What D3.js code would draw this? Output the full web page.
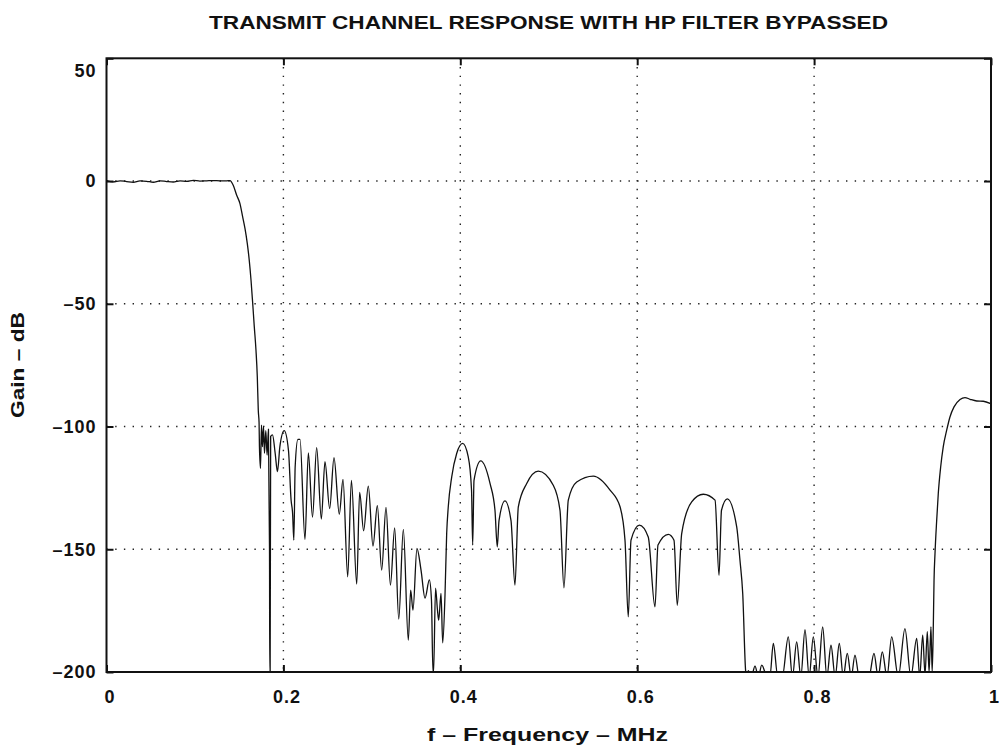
<!DOCTYPE html>
<html>
<head>
<meta charset="utf-8">
<script src="https://cdn.jsdelivr.net/npm/d3@7"></script>
<style>
  html, body { margin: 0; padding: 0; background: #fff; }
  svg { display: block; }
  text { font-family: "Liberation Sans", Arial, Helvetica, sans-serif; font-weight: bold; fill: #111; }
</style>
</head>
<body>
<script>
// ---- data (frequency in MHz, gain in dB) ----
const freq = [
  0.0000, 0.0077, 0.0153, 0.0228, 0.0303, 0.0379, 0.0454, 0.0529, 0.0605, 0.0680,
  0.0755, 0.0831, 0.0907, 0.0981, 0.1057, 0.1133, 0.1207, 0.1283, 0.1359, 0.1396,
  0.1434, 0.1472, 0.1509, 0.1540, 0.1566, 0.1592, 0.1614, 0.1634, 0.1653, 0.1671,
  0.1690, 0.1705, 0.1716, 0.1725, 0.1729, 0.1741, 0.1752, 0.1763, 0.1775, 0.1786,
  0.1801, 0.1816, 0.1831, 0.1843, 0.1846, 0.1850, 0.1856, 0.1877, 0.1907, 0.1933,
  0.1960, 0.2009, 0.2057, 0.2087, 0.2104, 0.2118, 0.2133, 0.2164, 0.2188, 0.2244,
  0.2282, 0.2329, 0.2376, 0.2429, 0.2470, 0.2523, 0.2572, 0.2632, 0.2674, 0.2727,
  0.2769, 0.2829, 0.2862, 0.2907, 0.2960, 0.3013, 0.3062, 0.3111, 0.3160, 0.3210,
  0.3258, 0.3304, 0.3356, 0.3412, 0.3439, 0.3465, 0.3510, 0.3556, 0.3601, 0.3650,
  0.3674, 0.3691, 0.3698, 0.3720, 0.3742, 0.3756, 0.3782, 0.3801, 0.3827, 0.3846,
  0.3864, 0.3903, 0.3959, 0.4027, 0.4090, 0.4127, 0.4140, 0.4155, 0.4231, 0.4336,
  0.4392, 0.4418, 0.4438, 0.4505, 0.4573, 0.4618, 0.4656, 0.4751, 0.4882, 0.5051,
  0.5127, 0.5172, 0.5221, 0.5316, 0.5504, 0.5693, 0.5806, 0.5862, 0.5899, 0.5930,
  0.6024, 0.6125, 0.6201, 0.6235, 0.6352, 0.6416, 0.6453, 0.6503, 0.6616, 0.6747,
  0.6880, 0.6925, 0.6953, 0.7019, 0.7125, 0.7162, 0.7193, 0.7227, 0.7240, 0.7256,
  0.7290, 0.7332, 0.7370, 0.7408, 0.7470, 0.7500, 0.7539, 0.7590, 0.7640, 0.7708,
  0.7755, 0.7803, 0.7850, 0.7897, 0.7944, 0.7991, 0.8044, 0.8097, 0.8144, 0.8191,
  0.8238, 0.8285, 0.8330, 0.8375, 0.8420, 0.8462, 0.8510, 0.8620, 0.8677, 0.8724,
  0.8771, 0.8824, 0.8877, 0.8952, 0.9027, 0.9094, 0.9160, 0.9194, 0.9228, 0.9254,
  0.9280, 0.9300, 0.9321, 0.9335, 0.9348, 0.9356, 0.9367, 0.9386, 0.9404, 0.9431,
  0.9460, 0.9499, 0.9536, 0.9582, 0.9650, 0.9706, 0.9763, 0.9839, 0.9913, 0.9989,
  1.0000
];
const gainDb = [
   0.2, -0.3,  0.1, -0.2, -0.5,  0.1, -0.1, -0.5,  0.1, -0.2,
  -0.4,  0.1, -0.1,  0.3,  0.0,  0.1,  0.2,  0.1,  0.1,  0.2,
  -1.8, -5.8, -9.2, -14.7, -19.4, -25.5, -32.3, -40.4, -49.9, -59.4,
  -68.9, -79.8, -93.4, -98.5, -108.0, -117.0, -99.4, -108.2, -99.8, -110.9,
  -101.7, -111.6, -101.1, -150.0, -200.0, -200.0, -104.0, -103.4, -110.9, -118.4,
  -108.2, -101.7, -109.6, -130.0, -135.4, -146.3, -116.4, -105.2, -105.2, -146.0,
  -110.7, -136.9, -108.6, -137.7, -114.3, -133.4, -112.7, -135.7, -121.5, -161.2,
  -121.9, -164.2, -126.8, -142.5, -124.3, -148.7, -132.2, -158.5, -132.9, -164.6,
  -141.3, -178.5, -141.9, -187.0, -166.7, -174.8, -149.7, -158.5, -169.9, -162.5,
  -170.7, -200.0, -200.0, -165.8, -174.8, -178.9, -168.0, -188.1, -168.7, -143.6,
  -132.7, -120.5, -111.0, -106.9, -112.4, -125.9, -148.3, -121.9, -114.0, -123.2,
  -134.1, -149.0, -138.2, -130.3, -138.2, -164.6, -132.7, -123.2, -118.2, -123.9,
  -134.1, -165.7, -130.0, -122.6, -120.2, -125.9, -132.7, -146.3, -177.5, -146.3,
  -140.2, -145.0, -173.5, -148.3, -143.9, -146.3, -172.8, -143.6, -130.7, -127.6,
  -130.0, -160.6, -134.1, -129.5, -140.9, -154.5, -168.0, -200.0, -202.0, -199.5,
  -202.0, -197.6, -202.0, -197.2, -202.0, -202.0, -188.4, -202.0, -202.0, -185.7,
  -202.0, -187.7, -202.0, -182.7, -202.0, -185.7, -202.0, -181.6, -202.0, -189.1,
  -202.0, -188.4, -202.0, -192.4, -202.0, -193.1, -202.0, -202.0, -192.4, -202.0,
  -191.8, -202.0, -185.7, -202.0, -182.3, -202.0, -186.3, -202.0, -185.0, -201.0,
  -183.6, -200.0, -181.6, -200.0, -180.9, -162.6, -151.7, -138.2, -127.3, -116.5,
  -108.3, -101.5, -96.1, -92.0, -89.0, -88.2, -88.9, -89.6, -89.7, -90.6,
  -90.8
];
const xTickValues = [0, 0.2, 0.4, 0.6, 0.8, 1];
const xTickLabels = ["0", "0.2", "0.4", "0.6", "0.8", "1"];
const yTickValues = [50, 0, -50, -100, -150, -200];
const yTickLabels = ["50", "0", "–50", "–100", "–150", "–200"];
const titleText = "TRANSMIT CHANNEL RESPONSE WITH HP FILTER BYPASSED";
const xLabelText = "f – Frequency – MHz";
const yLabelText = "Gain – dB";

// ---- layout ----
const W = 1003, H = 746;
const pL = 106.5, pR = 991, pT = 58.3, pB = 672;

const svg = d3.select("body").append("svg").attr("width", W).attr("height", H);

const x = d3.scaleLinear().domain([0, 1]).range([pL, pR]);
const y = d3.scaleLinear().domain([-200, 50]).range([pB, pT]);

// grid (dotted)
const grid = svg.append("g").attr("stroke", "#222").attr("stroke-width", 1.4)
  .attr("stroke-dasharray", "1.4,7.3");
grid.selectAll("line.gx").data(xTickValues.filter(v => v > 0 && v < 1)).join("line")
  .attr("class", "gx")
  .attr("x1", d => x(d)).attr("x2", d => x(d)).attr("y1", pT).attr("y2", pB);
grid.selectAll("line.gy").data(yTickValues.filter(v => v > -200 && v < 50)).join("line")
  .attr("class", "gy")
  .attr("y1", d => y(d)).attr("y2", d => y(d)).attr("x1", pL).attr("x2", pR);

// clip
svg.append("clipPath").attr("id", "plotclip").append("rect")
  .attr("x", pL).attr("y", pT).attr("width", pR - pL).attr("height", pB - pT);

// curve
const pts = freq.map((f, i) => [f, gainDb[i]]);
const line = d3.line().x(d => x(d[0])).y(d => y(d[1])).curve(d3.curveMonotoneX);
svg.append("path").datum(pts).attr("clip-path", "url(#plotclip)")
  .attr("d", line).attr("fill", "none").attr("stroke", "#111").attr("stroke-width", 1.3)
  .attr("stroke-linejoin", "round");

// axes with inward ticks
function styleAxis(g) {
  g.select(".domain").remove();
  g.selectAll(".tick line").attr("stroke", "#111").attr("stroke-width", 2);
  g.selectAll(".tick text").attr("font-size", 18).attr("font-weight", "bold")
    .attr("letter-spacing", "1px")
    .attr("font-family", '"Liberation Sans", Arial, sans-serif').attr("fill", "#111");
}
const axB = d3.axisBottom(x).tickValues(xTickValues).tickSize(-7).tickPadding(18)
  .tickFormat((d, i) => xTickLabels[i]);
svg.append("g").attr("transform", `translate(0,${pB})`).call(axB).call(styleAxis)
  .selectAll(".tick text").attr("dx", 3);
const axT = d3.axisTop(x).tickValues(xTickValues).tickSize(-7).tickFormat("");
svg.append("g").attr("transform", `translate(0,${pT})`).call(axT).call(styleAxis);
const axL = d3.axisLeft(y).tickValues(yTickValues).tickSize(-7).tickPadding(10)
  .tickFormat((d, i) => yTickLabels[i]);
const gL = svg.append("g").attr("transform", `translate(${pL},0)`).call(axL).call(styleAxis);
gL.selectAll(".tick text").filter(d => d === 50).attr("dy", "1.0em");
const axR = d3.axisRight(y).tickValues(yTickValues).tickSize(-7).tickFormat("");
svg.append("g").attr("transform", `translate(${pR},0)`).call(axR).call(styleAxis);

// frame
svg.append("rect").attr("x", pL).attr("y", pT).attr("width", pR - pL)
  .attr("height", pB - pT).attr("fill", "none").attr("stroke", "#111").attr("stroke-width", 2);

// title and labels
svg.append("text").attr("x", 209).attr("y", 29)
  .attr("font-size", 19).attr("textLength", 679).attr("lengthAdjust", "spacingAndGlyphs").text(titleText);
svg.append("text").attr("x", 427).attr("y", 741)
  .attr("font-size", 18).attr("textLength", 241).attr("lengthAdjust", "spacingAndGlyphs").text(xLabelText);
svg.append("text").attr("transform", "translate(24,418) rotate(-90)")
  .attr("font-size", 18).attr("textLength", 106).attr("lengthAdjust", "spacingAndGlyphs").text(yLabelText);
</script>
</body>
</html>
